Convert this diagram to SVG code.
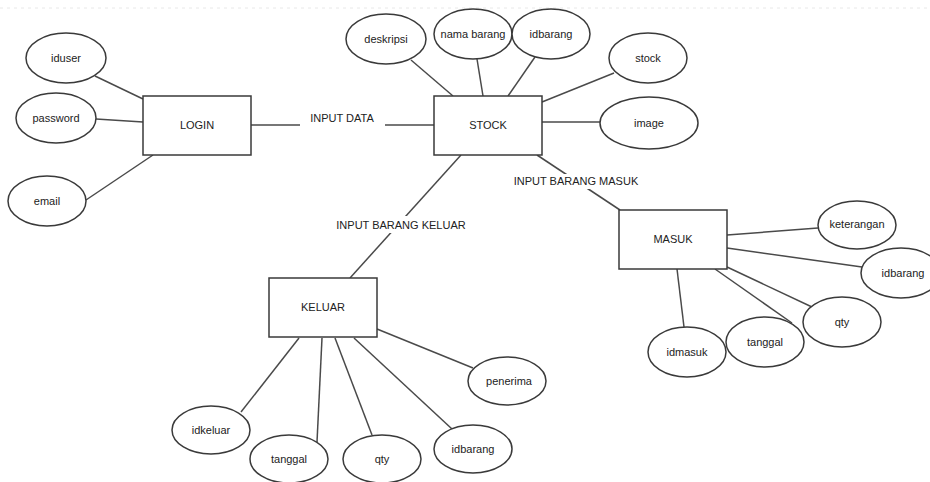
<svg xmlns="http://www.w3.org/2000/svg" width="930" height="482" viewBox="0 0 930 482">
<style>
.bg{fill:#ffffff}
.ent{fill:#ffffff;stroke:#3a3a3a;stroke-width:1.5}
.attr{fill:#ffffff;stroke:#3a3a3a;stroke-width:1.5}
.conn line{stroke:#4a4a4a;stroke-width:1.5}
text{font-family:"Liberation Sans",Arial,sans-serif;font-size:11px;fill:#222;text-anchor:middle;dominant-baseline:central}
.lblbg{fill:#ffffff}
</style>
<rect class="bg" x="0" y="0" width="930" height="482"/>
<line x1="0" y1="8" x2="930" y2="8" stroke="#e8e8e8" stroke-width="1" stroke-dasharray="3,4"/>
<g id="connectors" class="conn">
  <line x1="95" y1="76" x2="143" y2="99"/>
  <line x1="96" y1="119" x2="143" y2="122"/>
  <line x1="86" y1="200" x2="153" y2="155"/>
  <line x1="251" y1="125" x2="434" y2="125"/>
  <line x1="411" y1="60" x2="453" y2="96"/>
  <line x1="477" y1="59" x2="483" y2="96"/>
  <line x1="535" y1="57" x2="508" y2="96"/>
  <line x1="614" y1="73" x2="542" y2="102"/>
  <line x1="542" y1="122" x2="600" y2="122"/>
  <line x1="461" y1="155" x2="350" y2="278"/>
  <line x1="537" y1="155" x2="620" y2="210"/>
  <line x1="727" y1="235" x2="818" y2="228"/>
  <line x1="727" y1="248" x2="862" y2="267"/>
  <line x1="727" y1="267" x2="812" y2="307"/>
  <line x1="715" y1="269" x2="792" y2="323"/>
  <line x1="677" y1="269" x2="684" y2="327"/>
  <line x1="299" y1="338" x2="241" y2="412"/>
  <line x1="322" y1="338" x2="317" y2="442"/>
  <line x1="335" y1="338" x2="372" y2="435"/>
  <line x1="354" y1="338" x2="452" y2="429"/>
  <line x1="377" y1="329" x2="473" y2="368"/>
</g>
<g id="labels">
  <rect class="lblbg" x="300" y="112" width="85" height="14"/>
  <text x="342" y="118">INPUT DATA</text>
  <rect class="lblbg" x="513" y="174" width="126" height="15"/>
  <text x="576" y="181">INPUT BARANG MASUK</text>
  <rect class="lblbg" x="336" y="216" width="131" height="17"/>
  <text x="401" y="225">INPUT BARANG KELUAR</text>
</g>
<g id="login"><rect class="ent" x="143" y="96" width="108" height="59"/><text x="197" y="125">LOGIN</text></g>
<g id="iduser"><ellipse class="attr" cx="66" cy="58" rx="40" ry="25"/><text x="66" y="58">iduser</text></g>
<g id="password"><ellipse class="attr" cx="56" cy="118" rx="40" ry="25"/><text x="56" y="118">password</text></g>
<g id="email"><ellipse class="attr" cx="47" cy="201" rx="39" ry="25"/><text x="47" y="201">email</text></g>
<g id="stock"><rect class="ent" x="434" y="96" width="108" height="59"/><text x="488" y="125">STOCK</text></g>
<g id="deskripsi"><ellipse class="attr" cx="386" cy="39" rx="40" ry="25"/><text x="386" y="39">deskripsi</text></g>
<g id="nama_barang"><ellipse class="attr" cx="473" cy="34" rx="39" ry="25"/><text x="473" y="34">nama barang</text></g>
<g id="idbarang_stock"><ellipse class="attr" cx="551" cy="34" rx="39" ry="25"/><text x="551" y="34">idbarang</text></g>
<g id="stock_attr"><ellipse class="attr" cx="648" cy="58" rx="39" ry="25"/><text x="648" y="58">stock</text></g>
<g id="image"><ellipse class="attr" cx="649" cy="123" rx="49" ry="26"/><text x="649" y="123">image</text></g>
<g id="masuk"><rect class="ent" x="619" y="210" width="108" height="59"/><text x="673" y="239">MASUK</text></g>
<g id="keterangan"><ellipse class="attr" cx="857" cy="225" rx="39" ry="24"/><text x="857" y="224">keterangan</text></g>
<g id="idbarang_masuk"><ellipse class="attr" cx="901" cy="273" rx="40" ry="25"/><text x="903" y="273">idbarang</text></g>
<g id="qty_masuk"><ellipse class="attr" cx="842" cy="322" rx="39" ry="25"/><text x="842" y="322">qty</text></g>
<g id="tanggal_masuk"><ellipse class="attr" cx="765" cy="342" rx="39" ry="25"/><text x="765" y="342">tanggal</text></g>
<g id="idmasuk"><ellipse class="attr" cx="687" cy="352" rx="39" ry="25"/><text x="687" y="352">idmasuk</text></g>
<g id="keluar"><rect class="ent" x="269" y="278" width="108" height="59"/><text x="323" y="307">KELUAR</text></g>
<g id="penerima"><ellipse class="attr" cx="507" cy="381" rx="39" ry="24"/><text x="509" y="381">penerima</text></g>
<g id="idkeluar"><ellipse class="attr" cx="211" cy="430" rx="39" ry="24"/><text x="211" y="430">idkeluar</text></g>
<g id="tanggal_keluar"><ellipse class="attr" cx="289" cy="459" rx="39" ry="24"/><text x="289" y="459">tanggal</text></g>
<g id="qty_keluar"><ellipse class="attr" cx="382" cy="459" rx="39" ry="24"/><text x="382" y="459">qty</text></g>
<g id="idbarang_keluar"><ellipse class="attr" cx="473" cy="449" rx="39" ry="24"/><text x="473" y="449">idbarang</text></g>
</svg>
